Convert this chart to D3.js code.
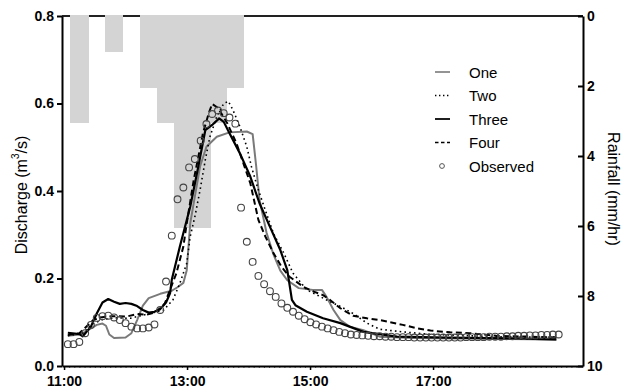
<!DOCTYPE html>
<html>
<head>
<meta charset="utf-8">
<script src="https://cdn.jsdelivr.net/npm/d3@7"></script>
<style>
  body { margin: 0; background: #fff; }
  text { font-family: "Liberation Sans", Arial, sans-serif; }
</style>
</head>
<body>
<svg id="canvas" width="629" height="392"></svg>
<script>
// times are minutes after 11:00
const xTickLabels = ["11:00", "13:00", "15:00", "17:00"];
const yTicks = [0, 0.2, 0.4, 0.6, 0.8];
const rainTicks = [0, 2, 4, 6, 8, 10];

// rainfall bars (mm/hr), hanging from the top
const rainFrom = [5.9, 39.7, 74.1, 90.4, 107.4, 125.4, 143.0, 159.2];
const rainTo = [24.4, 57.8, 90.4, 107.4, 125.4, 143.0, 159.2, 175.9];
const rainValue = [3.07, 1.04, 2.05, 3.07, 6.07, 6.07, 3.07, 2.05];

const obsTime = [3.7, 9.3, 14.9, 20.6, 26.2, 31.9, 37.5, 43.1, 48.8, 54.4, 60.0, 65.7, 71.3, 76.9,
  82.6, 88.2, 93.8, 99.5, 105.1, 110.7, 116.4, 122.0, 127.6, 133.3, 138.9, 144.5, 150.2, 155.8, 161.4,
  167.1, 172.7, 178.3, 184.0, 189.6, 195.2, 200.9, 206.5, 212.1, 217.8, 223.4, 229.0, 234.7, 240.3,
  245.9, 251.6, 257.2, 262.9, 268.5, 274.1, 279.8, 285.4, 291.0, 296.7, 302.3, 307.9, 313.6, 319.2,
  324.8, 330.5, 336.1, 341.7, 347.4, 353.0, 358.6, 364.3, 369.9, 375.5, 381.2, 386.8, 392.4, 398.1,
  403.7, 409.3, 415.0, 420.6, 426.2, 431.9, 437.5, 443.1, 448.8, 454.4, 460.0, 465.7, 471.3, 476.9,
  482.6];
const obsValue = [0.050, 0.050, 0.055, 0.075, 0.094, 0.110, 0.114, 0.115, 0.111, 0.105, 0.098, 0.090,
  0.086, 0.086, 0.088, 0.095, 0.128, 0.193, 0.298, 0.381, 0.408, 0.454, 0.473, 0.515, 0.553, 0.576,
  0.584, 0.578, 0.568, 0.554, 0.362, 0.284, 0.238, 0.206, 0.187, 0.171, 0.158, 0.143, 0.133, 0.124,
  0.115, 0.107, 0.100, 0.095, 0.090, 0.086, 0.082, 0.078, 0.075, 0.072, 0.071, 0.070, 0.069, 0.068,
  0.068, 0.067, 0.067, 0.066, 0.066, 0.066, 0.065, 0.065, 0.065, 0.065, 0.065, 0.065, 0.065, 0.065,
  0.065, 0.066, 0.066, 0.066, 0.066, 0.067, 0.067, 0.067, 0.068, 0.068, 0.069, 0.069, 0.070, 0.070,
  0.071, 0.071, 0.072, 0.072];

const oneTime = [3.7, 15.0, 20.6, 26.2, 31.9, 37.5, 40.9, 44.2, 48.8, 60.0, 65.7, 71.3, 76.9, 82.6,
  93.8, 105.1, 110.7, 116.4, 119.7, 123.1, 127.6, 132.7, 138.9, 149.0, 161.4, 178.3, 184.0, 187.3,
  190.7, 197.5, 204.3, 211.0, 217.8, 229.0, 242.6, 251.6, 256.1, 262.9, 269.6, 278.6, 292.1, 307.9,
  341.7, 454.4, 480.3];
const oneValue = [0.069, 0.072, 0.078, 0.086, 0.094, 0.097, 0.092, 0.072, 0.064, 0.065, 0.075, 0.105,
  0.138, 0.155, 0.165, 0.172, 0.180, 0.190, 0.219, 0.326, 0.387, 0.456, 0.501, 0.524, 0.534, 0.536,
  0.530, 0.460, 0.380, 0.305, 0.255, 0.218, 0.196, 0.178, 0.174, 0.174, 0.158, 0.128, 0.105, 0.090,
  0.082, 0.067, 0.064, 0.061, 0.060];

const twoTime = [3.7, 18.3, 27.3, 38.6, 51.0, 64.5, 83.7, 97.2, 106.2, 113.0, 119.7, 123.1, 127.6,
  132.7, 137.8, 142.3, 149.0, 155.8, 160.3, 164.8, 171.6, 178.3, 182.8, 188.5, 195.2, 204.3, 214.4,
  223.4, 236.9, 247.1, 256.1, 269.6, 282.0, 295.5, 307.9, 330.5, 354.1, 373.3, 421.7, 471.3, 480.3];
const twoValue = [0.069, 0.075, 0.096, 0.107, 0.110, 0.109, 0.120, 0.128, 0.151, 0.189, 0.235, 0.296,
  0.341, 0.402, 0.471, 0.524, 0.570, 0.600, 0.605, 0.585, 0.547, 0.501, 0.456, 0.410, 0.364, 0.303,
  0.258, 0.212, 0.174, 0.162, 0.151, 0.136, 0.120, 0.098, 0.084, 0.078, 0.073, 0.071, 0.067, 0.066,
  0.066];

const threeTime = [3.7, 15.0, 18.3, 26.2, 31.9, 37.5, 43.1, 48.8, 54.4, 60.0, 65.7, 71.3, 76.9, 82.6,
  88.2, 93.8, 99.5, 103.4, 105.1, 113.0, 123.1, 131.0, 137.8, 144.5, 151.3, 155.8, 161.4, 171.6, 181.7,
  190.7, 200.9, 211.0, 217.8, 222.3, 225.7, 236.9, 252.7, 269.6, 292.1, 324.8, 373.3, 438.6, 480.3];
const threeValue = [0.076, 0.073, 0.068, 0.090, 0.120, 0.145, 0.153, 0.147, 0.142, 0.144, 0.142, 0.137,
  0.128, 0.122, 0.124, 0.130, 0.145, 0.166, 0.197, 0.273, 0.364, 0.456, 0.539, 0.551, 0.566, 0.558,
  0.532, 0.486, 0.433, 0.372, 0.318, 0.265, 0.219, 0.151, 0.139, 0.124, 0.109, 0.098, 0.078, 0.067,
  0.065, 0.063, 0.061];

const fourTime = [3.7, 15.0, 28.5, 35.2, 47.6, 61.1, 71.3, 80.3, 88.2, 93.8, 98.3, 109.6, 116.4, 119.7,
  126.5, 131.0, 135.5, 141.2, 144.5, 150.2, 159.2, 168.2, 175.0, 181.7, 189.6, 196.4, 204.3, 212.1,
  220.0, 233.5, 243.7, 252.7, 259.5, 269.6, 282.0, 295.5, 307.9, 330.5, 345.1, 357.5, 376.7, 395.8,
  421.7, 455.5, 480.3];
const fourValue = [0.071, 0.075, 0.105, 0.111, 0.114, 0.113, 0.119, 0.117, 0.122, 0.132, 0.143, 0.212,
  0.273, 0.326, 0.425, 0.478, 0.532, 0.578, 0.599, 0.590, 0.555, 0.509, 0.463, 0.418, 0.334, 0.296,
  0.258, 0.227, 0.204, 0.181, 0.170, 0.162, 0.151, 0.132, 0.115, 0.109, 0.105, 0.094, 0.086, 0.081,
  0.077, 0.075, 0.069, 0.067, 0.065];

const seriesNames = ["One", "Two", "Three", "Four", "Observed"];

const toMin = s => { const p = s.split(":"); return (+p[0] - 11) * 60 + (+p[1]); };
const zip = (t, v) => t.map((d, i) => ({ t: d, v: v[i] }));

const svg = d3.select('#canvas');
const pLeft = 62, pRight = 583, pTop = 16, pBottom = 366;

const x = d3.scaleLinear().domain([-2, 506.3]).range([pLeft, pRight]);
const y = d3.scaleLinear().domain([0, 0.8]).range([pBottom, pTop]);
const yR = d3.scaleLinear().domain([0, 10]).range([pTop, pBottom]);

// top frame line (bars cover it)
svg.append('line')
    .attr('x1', pLeft).attr('x2', pRight)
    .attr('y1', pTop).attr('y2', pTop)
    .attr('stroke', '#222').attr('stroke-width', 2);

// rain bars
svg.append('g').selectAll('rect')
    .data(rainValue.map((v, i) => ({ a: rainFrom[i], b: rainTo[i], v: v })))
    .enter().append('rect')
    .attr('x', d => x(d.a))
    .attr('width', d => x(d.b) - x(d.a))
    .attr('y', yR(0) - 1)
    .attr('height', d => yR(d.v) - yR(0) + 1)
    .attr('fill', '#d4d4d4')
    .attr('shape-rendering', 'crispEdges');

// model lines
const line = d3.line().x(d => x(d.t)).y(d => y(d.v));
const models = [
    { data: zip(oneTime, oneValue), stroke: '#7a7a7a', width: 2, dash: null },
    { data: zip(twoTime, twoValue), stroke: '#000', width: 1.6, dash: '1.6,3.2' },
    { data: zip(threeTime, threeValue), stroke: '#000', width: 2.2, dash: null },
    { data: zip(fourTime, fourValue), stroke: '#000', width: 2, dash: '6,3.5' }
];
svg.append('g').selectAll('path')
    .data(models)
    .enter().append('path')
    .attr('d', d => line(d.data))
    .attr('fill', 'none')
    .attr('stroke', d => d.stroke)
    .attr('stroke-width', d => d.width)
    .attr('stroke-dasharray', d => d.dash)
    .attr('stroke-linejoin', 'round');

// observed
svg.append('g').selectAll('circle')
    .data(zip(obsTime, obsValue))
    .enter().append('circle')
    .attr('cx', d => x(d.t))
    .attr('cy', d => y(d.v))
    .attr('r', 3.4)
    .attr('fill', 'none')
    .attr('stroke', '#444')
    .attr('stroke-width', 1.1);

// axes
const tickFont = g => g.selectAll('text')
    .attr('font-family', '"Liberation Sans", Arial, sans-serif')
    .attr('font-size', 14).attr('font-weight', 'bold').attr('fill', '#000');

const gl = svg.append('g').attr('transform', `translate(${pLeft},0)`)
    .call(d3.axisLeft(y).tickValues(yTicks).tickFormat(d3.format('.1f')).tickSizeInner(5).tickSizeOuter(0).tickPadding(3))
    .call(tickFont);
gl.select('.domain').attr('stroke-width', 2);
gl.selectAll('.tick line').attr('stroke-width', 2);

const gr = svg.append('g').attr('transform', `translate(${pRight},0)`)
    .call(d3.axisRight(yR).tickValues(rainTicks).tickSizeInner(-5).tickSizeOuter(0).tickPadding(4))
    .call(tickFont);
gr.select('.domain').attr('stroke-width', 2);
gr.selectAll('.tick line').attr('stroke-width', 2);

// minor ticks on the time axis
svg.append('g').attr('transform', `translate(0,${pBottom})`)
    .call(d3.axisBottom(x).tickValues(d3.range(0, 506, 5)).tickSize(2).tickFormat(''))
    .call(g => g.select('.domain').remove())
    .call(g => g.selectAll('.tick line').attr('stroke', '#666'));

const gb = svg.append('g').attr('transform', `translate(0,${pBottom})`)
    .call(d3.axisBottom(x).tickValues(xTickLabels.map(toMin)).tickFormat((d, i) => xTickLabels[i])
        .tickSizeInner(4).tickSizeOuter(0).tickPadding(6))
    .call(tickFont);
gb.select('.domain').attr('stroke-width', 2);
gb.selectAll('.tick line').attr('stroke-width', 1.5);

// axis titles
const lt = svg.append('text')
    .attr('transform', `translate(21,${(pTop + pBottom) / 2 + 4}) rotate(-90)`)
    .attr('text-anchor', 'middle')
    .attr('dominant-baseline', 'central')
    .attr('font-size', 16);
lt.append('tspan').text('Discharge (m');
lt.append('tspan').attr('font-size', 10).attr('dy', -6).text('3');
lt.append('tspan').attr('dy', 6).text('/s)');

svg.append('text')
    .attr('transform', `translate(613,${(pTop + pBottom) / 2 - 2}) rotate(90)`)
    .attr('text-anchor', 'middle')
    .attr('dominant-baseline', 'central')
    .attr('font-size', 16)
    .text('Rainfall (mm/hr)');

// legend
const legend = svg.append('g').attr('transform', 'translate(435,72)');
const items = legend.selectAll('g')
    .data(seriesNames)
    .enter().append('g')
    .attr('transform', (d, i) => `translate(0,${i * 23.5})`);
items.filter((d, i) => i < 4).append('line')
    .attr('x1', 0).attr('x2', 15).attr('y1', 0).attr('y2', 0)
    .attr('stroke', (d, i) => models[i].stroke)
    .attr('stroke-width', (d, i) => models[i].width * 0.8)
    .attr('stroke-dasharray', (d, i) => models[i].dash ? (i === 1 ? '1.4,2.6' : '3.5,2.5') : null);
items.filter((d, i) => i === 4).append('circle')
    .attr('cx', 7).attr('cy', 0).attr('r', 2.4)
    .attr('fill', 'none').attr('stroke', '#555').attr('stroke-width', 1);
items.append('text')
    .attr('x', 34).attr('y', 0)
    .attr('dominant-baseline', 'central')
    .attr('font-size', 15)
    .text(d => d);
</script>
</body>
</html>
